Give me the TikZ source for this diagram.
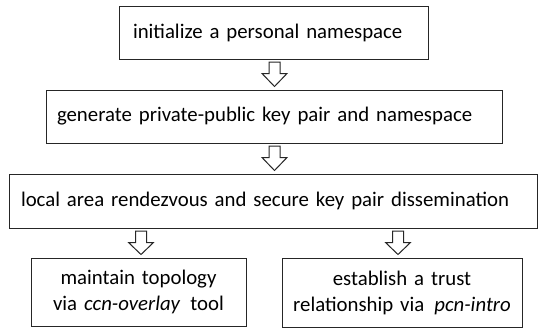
\documentclass[tikz,border=0pt]{standalone}
\usepackage{fontspec}
\setmainfont{Carlito}
\usetikzlibrary{calc}
\newcommand{\myboxfont}{\fontsize{20.8}{26}\selectfont\spaceskip=6.2pt plus 1pt minus 1pt\relax}
\begin{document}
\begin{tikzpicture}[x=1pt,y=-1pt,
  stepbox/.style={draw=black!85, line width=1pt, inner ysep=0pt, font=\myboxfont},
  blockarr/.style={draw=black!85, line width=1pt, fill=white, line join=miter}]
\useasboundingbox (0,0) rectangle (538,330);
\newcommand{\boxnode}[8]{%
  % name, left, top, right, bottom, padding, align, text
  \node[stepbox, minimum width=#4-#2, minimum height=#5-#3, inner xsep=#6,
        text width=#4-#2-2*#6, align=#7] (#1) at ({(#2+#4)/2},{(#3+#5)/2}) {#8};}
\boxnode{b1}{119}{6}{428}{59}{14}{left}{initialize a personal namespace}
\boxnode{b2}{46}{90}{502}{143}{11}{left}{generate private-public key pair and namespace}
\boxnode{b3}{9}{174}{537}{228}{12}{left}{local area rendezvous and secure key pair dissemination}
\boxnode{b4}{31}{258}{246}{326}{4}{center}{maintain topology\\via \textit{ccn-overlay}\hspace{3pt} tool}
\boxnode{b5}{282}{258}{522}{327}{4}{center}{establish a trust\\relationship via\hspace{3pt} \textit{pcn-intro}}
\newcommand{\blockarrow}[3]{%
  % from node, to node, x position
  \draw[blockarr] let \p1=(#1.south), \p2=(#2.north) in
    (#3-5.5,\y1-2.5) -- (#3+5.5,\y1-2.5) -- (#3+5.5,\y1-14) -- (#3+12.5,\y1-14)
    -- (#3,\y2+3) -- (#3-12.5,\y1-14) -- (#3-5.5,\y1-14) -- cycle;}
\blockarrow{b1}{b2}{274.5}
\blockarrow{b2}{b3}{274.5}
\blockarrow{b3}{b4}{141}
\blockarrow{b3}{b5}{398}
\end{tikzpicture}
\end{document}
